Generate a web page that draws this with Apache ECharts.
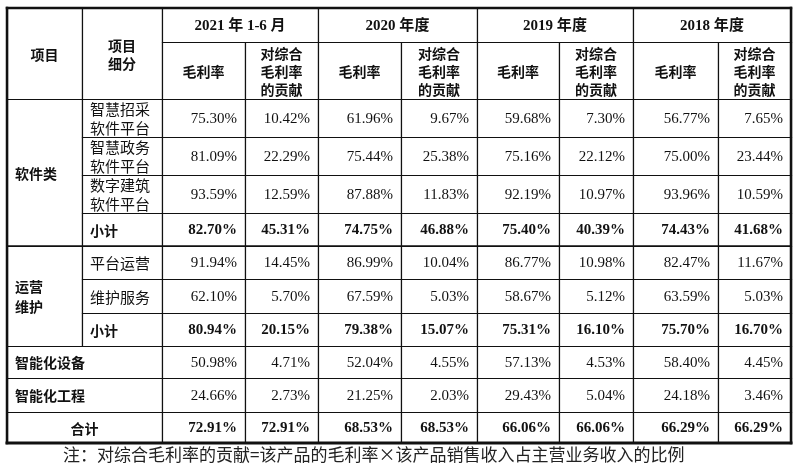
<!DOCTYPE html>
<html>
<head>
<meta charset="utf-8">
<script src="https://cdn.jsdelivr.net/npm/echarts@6/dist/echarts.min.js"></script>
<style>
  html, body { margin: 0; padding: 0; background: #fff; }
  #main { width: 800px; height: 472px; }
</style>
</head>
<body>
<div id="main"></div>
<script>
// 表头
const periods = ['2021 年 1-6 月', '2020 年度', '2019 年度', '2018 年度']
const metrics = ['毛利率', '对综合\n毛利率\n的贡献']
const groupLabels = ['软件类', '运营\n维护']
const itemLabels = ['智慧招采\n软件平台', '智慧政务\n软件平台', '数字建筑\n软件平台', '小计',
  '平台运营', '维护服务', '小计', '智能化设备', '智能化工程', '合计']
const footnote = '注：对综合毛利率的贡献=该产品的毛利率×该产品销售收入占主营业务收入的比例'

// 数据 (%)
const margin2021 = [75.30, 81.09, 93.59, 82.70, 91.94, 62.10, 80.94, 50.98, 24.66, 72.91]
const contrib2021 = [10.42, 22.29, 12.59, 45.31, 14.45, 5.70, 20.15, 4.71, 2.73, 72.91]
const margin2020 = [61.96, 75.44, 87.88, 74.75, 86.99, 67.59, 79.38, 52.04, 21.25, 68.53]
const contrib2020 = [9.67, 25.38, 11.83, 46.88, 10.04, 5.03, 15.07, 4.55, 2.03, 68.53]
const margin2019 = [59.68, 75.16, 92.19, 75.40, 86.77, 58.67, 75.31, 57.13, 29.43, 66.06]
const contrib2019 = [7.30, 22.12, 10.97, 40.39, 10.98, 5.12, 16.10, 4.53, 5.04, 66.06]
const margin2018 = [56.77, 75.00, 93.96, 74.43, 82.47, 63.59, 75.70, 58.40, 24.18, 66.29]
const contrib2018 = [7.65, 23.44, 10.59, 41.68, 11.67, 5.03, 16.70, 4.45, 3.46, 66.29]
const columns = [margin2021, contrib2021, margin2020, contrib2020, margin2019, contrib2019, margin2018, contrib2018]

// 版式 (表格坐标)
const colEdges = [7, 82, 162, 245, 318, 401, 477, 559, 633, 718, 791]
const rowEdges = [8, 42, 99, 137, 175, 213, 246, 279, 313, 346, 378, 412, 443]
const boldRows = [3, 6, 9]

const serif = "'Liberation Serif', 'Noto Sans CJK SC'"
const hei = "'Noto Sans CJK SC'"

const cells = []
function addCell (c0, c1, r0, r1, text, opt) {
  cells.push(Object.assign({ c0, c1, r0, r1, text, align: 'center', bold: false, font: hei, size: 14, lh: 18 }, opt))
}

// 表头
addCell(0, 1, 0, 2, '项目', { bold: true })
addCell(1, 2, 0, 2, '项目\n细分', { bold: true })
periods.forEach((p, i) => {
  addCell(2 + 2 * i, 4 + 2 * i, 0, 1, p, { bold: true, font: serif, size: 15 })
  metrics.forEach((m, j) => {
    addCell(2 + 2 * i + j, 3 + 2 * i + j, 1, 2, m, { bold: true })
  })
})
// 分组
addCell(0, 1, 2, 6, groupLabels[0], { align: 'left', bold: true })
addCell(0, 1, 6, 9, groupLabels[1], { align: 'left', bold: true, lh: 20 })
// 项目
itemLabels.forEach((t, i) => {
  const r = 2 + i
  if (i < 7) {
    const isSub = t === '小计'
    addCell(1, 2, r, r + 1, t, { align: 'left', bold: isSub, size: isSub ? 14 : 15, lh: 19 })
  } else if (i < 9) {
    addCell(0, 2, r, r + 1, t, { align: 'left', bold: true })
  } else {
    addCell(0, 2, r, r + 1, t, { bold: true })
  }
})
// 数值
columns.forEach((col, k) => {
  col.forEach((v, i) => {
    addCell(2 + k, 3 + k, 2 + i, 3 + i, v.toFixed(2) + '%', {
      align: 'right', bold: boldRows.includes(i), font: serif, size: 15
    })
  })
})

// 粗线: [x0, y0, x1, y1, 线宽]
const frameLines = [
  [colEdges[0], rowEdges[0], colEdges[10], rowEdges[0], 2.5],
  [colEdges[0], rowEdges[12], colEdges[10], rowEdges[12], 3],
  [colEdges[0], rowEdges[0], colEdges[0], rowEdges[12], 2.5],
  [colEdges[10], rowEdges[0], colEdges[10], rowEdges[12], 2.5],
  [colEdges[0], rowEdges[6], colEdges[10], rowEdges[6], 1.6]
]

const myChart = echarts.init(document.getElementById('main'))
const option = {
  animation: false,
  title: {
    text: footnote,
    left: 63,
    top: 446,
    padding: 0,
    textStyle: { fontFamily: hei, fontSize: 17, fontWeight: 'normal', color: '#222' }
  },
  grid: { left: 0, right: 0, top: 0, bottom: 0 },
  xAxis: { type: 'value', min: 0, max: 800, show: false },
  yAxis: { type: 'value', min: 0, max: 472, inverse: true, show: false },
  series: [
    {
      type: 'custom',
      coordinateSystem: 'cartesian2d',
      silent: true,
      data: cells.map(c => [colEdges[c.c0], rowEdges[c.r0], colEdges[c.c1], rowEdges[c.r1]]),
      renderItem (params, api) {
        const c = cells[params.dataIndex]
        const p0 = api.coord([api.value(0), api.value(1)])
        const p1 = api.coord([api.value(2), api.value(3)])
        let tx = (p0[0] + p1[0]) / 2
        if (c.align === 'left') tx = p0[0] + 8
        if (c.align === 'right') tx = p1[0] - 8
        return {
          type: 'group',
          children: [
            {
              type: 'rect',
              shape: { x: Math.round(p0[0]) + 0.5, y: Math.round(p0[1]) + 0.5, width: p1[0] - p0[0], height: p1[1] - p0[1] },
              style: { fill: '#fff', stroke: '#111', lineWidth: 1.2 }
            },
            {
              type: 'text',
              x: tx,
              y: (p0[1] + p1[1]) / 2 + 1,
              style: {
                text: c.text,
                fill: '#111',
                font: (c.bold ? 'bold ' : '') + c.size + 'px ' + c.font,
                lineHeight: c.lh,
                align: c.align,
                verticalAlign: 'middle'
              }
            }
          ]
        }
      }
    },
    {
      type: 'custom',
      coordinateSystem: 'cartesian2d',
      silent: true,
      data: frameLines,
      renderItem (params, api) {
        const a = api.coord([api.value(0), api.value(1)])
        const b = api.coord([api.value(2), api.value(3)])
        return {
          type: 'line',
          shape: { x1: a[0], y1: a[1], x2: b[0], y2: b[1] },
          style: { stroke: '#111', lineWidth: api.value(4), lineCap: 'square' }
        }
      }
    }
  ]
}
myChart.setOption(option)
</script>
</body>
</html>
